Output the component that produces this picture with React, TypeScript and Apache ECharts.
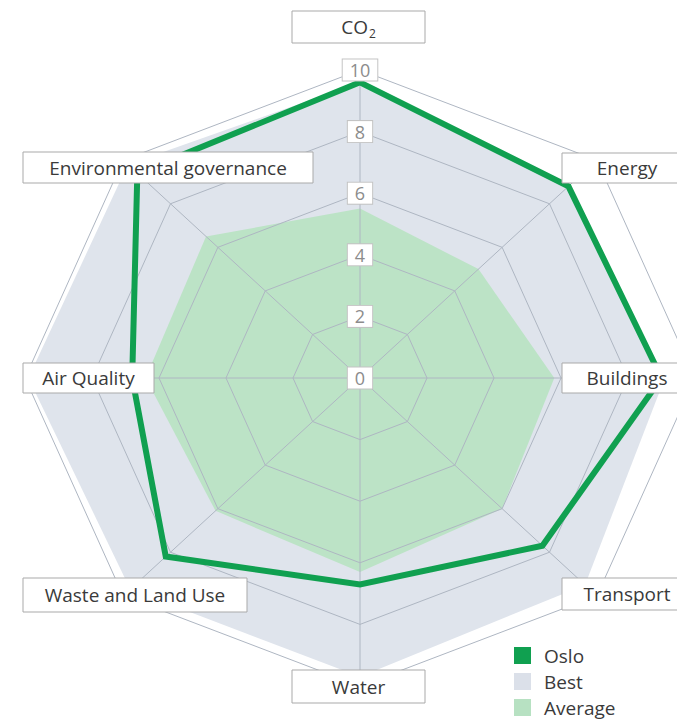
import React, { useEffect, useRef } from "react";
import * as echarts from "echarts";

const indicators = [
  "CO2",
  "Energy",
  "Buildings",
  "Transport",
  "Water",
  "Waste and Land Use",
  "Air Quality",
  "Environmental governance",
];
const osloValues = [9.6, 8.8, 9.0, 7.7, 6.7, 8.2, 6.8, 9.4];
const bestValues = [9.6, 8.8, 9.1, 9.5, 9.7, 9.7, 9.9, 9.8];
const averageValues = [5.5, 5.0, 5.8, 6.0, 6.3, 6.1, 6.4, 6.5];
const ringValues = [2, 4, 6, 8, 10];
const tickLabels = ["0", "2", "4", "6", "8", "10"];
const maxValue = 10;

const FONT = "'Open Sans', 'DejaVu Sans', sans-serif";

function toXY(v: number, i: number): [number, number] {
  const a = (i * 2 * Math.PI) / indicators.length;
  return [v * Math.sin(a), v * Math.cos(a)];
}

function polygonSeries(name: string, values: number[], color: string, style: any, z: number) {
  return {
    type: "custom",
    name,
    coordinateSystem: "cartesian2d",
    silent: true,
    z,
    itemStyle: { color },
    data: values.map((v, i) => toXY(v, i)),
    renderItem: (params: any, api: any) => {
      if (params.dataIndex !== 0) return null;
      const pts = values.map((v, i) => api.coord(toXY(v, i)));
      return { type: "polygon", shape: { points: pts }, style };
    },
  };
}

export default function App() {
  const ref = useRef<HTMLDivElement>(null);
  useEffect(() => {
    if (!ref.current) return;
    const chart = echarts.init(ref.current, undefined, { renderer: "svg" });

    const ringSeries = {
      type: "custom",
      name: "rings",
      coordinateSystem: "cartesian2d",
      silent: true,
      z: 3,
      data: ringValues.map((v) => [0, v]),
      renderItem: (params: any, api: any) => {
        const v = api.value(1);
        const pts = indicators.map((_, i) => api.coord(toXY(v, i)));
        return {
          type: "polygon",
          shape: { points: pts },
          style: { fill: "none", stroke: "#aeb6c2", lineWidth: 1 },
        };
      },
    };

    const spokeSeries = {
      type: "custom",
      name: "spokes",
      coordinateSystem: "cartesian2d",
      silent: true,
      z: 3,
      data: indicators.map((_, i) => toXY(maxValue, i)),
      renderItem: (params: any, api: any) => {
        const c = api.coord([0, 0]);
        const p = api.coord([api.value(0), api.value(1)]);
        return {
          type: "line",
          shape: { x1: c[0], y1: c[1], x2: p[0], y2: p[1] },
          style: { stroke: "#aeb6c2", lineWidth: 1 },
        };
      },
    };

    const tickSeries = {
      type: "custom",
      name: "ticks",
      coordinateSystem: "cartesian2d",
      silent: true,
      z: 6,
      data: tickLabels.map((t) => [0, Number(t)]),
      renderItem: (params: any, api: any) => {
        const p = api.coord([0, api.value(1)]);
        return {
          type: "text",
          x: p[0],
          y: p[1],
          style: {
            text: tickLabels[params.dataIndex],
            fill: "#8c8c8c",
            font: `18px ${FONT}`,
            align: "center",
            verticalAlign: "middle",
            backgroundColor: "#ffffff",
            borderColor: "#c4c4c4",
            borderWidth: 1,
            padding: [2, 7, 1, 7],
          },
        };
      },
    };

    const nameBoxes = [
      { x: 292, y: 11, w: 133, h: 32 },
      { x: 562, y: 153, w: 130, h: 30 },
      { x: 562, y: 363, w: 130, h: 30 },
      { x: 562, y: 578, w: 130, h: 32 },
      { x: 292, y: 670, w: 133, h: 33 },
      { x: 23, y: 578, w: 224, h: 34 },
      { x: 23, y: 363, w: 131, h: 30 },
      { x: 23, y: 152, w: 290, h: 31 },
    ];

    const graphics: any[] = [];
    indicators.forEach((name, i) => {
      const b = nameBoxes[i];
      const isCO2 = name === "CO2";
      graphics.push({
        type: "rect",
        z: 100,
        silent: true,
        shape: { x: b.x, y: b.y, width: b.w, height: b.h },
        style: { fill: "#ffffff", stroke: "#a9a9a9", lineWidth: 1 },
      });
      graphics.push({
        type: "text",
        z: 101,
        silent: true,
        x: b.x + b.w / 2,
        y: b.y + b.h / 2,
        style: isCO2
          ? {
              text: "{a|CO}{b|2}",
              align: "center",
              verticalAlign: "middle",
              rich: {
                a: { fontFamily: FONT, fontSize: 19, fill: "#3a3a3a", lineHeight: 24, verticalAlign: "middle" },
                b: { fontFamily: FONT, fontSize: 12, fill: "#3a3a3a", lineHeight: 24, verticalAlign: "bottom", padding: [10, 0, 0, 1] },
              },
            }
          : {
              text: name,
              fill: "#3a3a3a",
              font: `19px ${FONT}`,
              align: "center",
              verticalAlign: "middle",
            },
      });
    });

    chart.setOption({
      animation: false,
      backgroundColor: "#ffffff",
      grid: { left: 25, top: 70, width: 670, height: 616 },
      xAxis: { type: "value", min: -maxValue, max: maxValue, show: false },
      yAxis: { type: "value", min: -maxValue, max: maxValue, show: false },
      legend: {
        orient: "vertical",
        left: 514,
        top: 646,
        padding: 0,
        itemWidth: 17,
        itemHeight: 17,
        itemGap: 7,
        selectedMode: false,
        textStyle: { fontFamily: FONT, fontSize: 19, lineHeight: 18, color: "#3a3a3a", padding: [0, 0, 0, 8] },
        data: [
          { name: "Oslo", icon: "rect" },
          { name: "Best", icon: "rect" },
          { name: "Average", icon: "rect" },
        ],
      },
      series: [
        polygonSeries("Best", bestValues, "#dbe0e9", { fill: "#dfe4ec", stroke: "none" }, 1),
        polygonSeries("Average", averageValues, "#b7e1c2", { fill: "#bce3c6", stroke: "none" }, 2),
        ringSeries,
        spokeSeries,
        polygonSeries(
          "Oslo",
          osloValues,
          "#10a050",
          { fill: "none", stroke: "#10a050", lineWidth: 6, lineJoin: "miter" },
          5
        ),
        tickSeries,
      ],
      graphic: { elements: graphics },
    });

    return () => chart.dispose();
  }, []);

  return (
    <div
      style={{ position: "absolute", left: 0, top: 0, width: 677, height: 720, overflow: "hidden" }}
    >
      <div ref={ref} style={{ width: 720, height: 720 }} />
    </div>
  );
}
